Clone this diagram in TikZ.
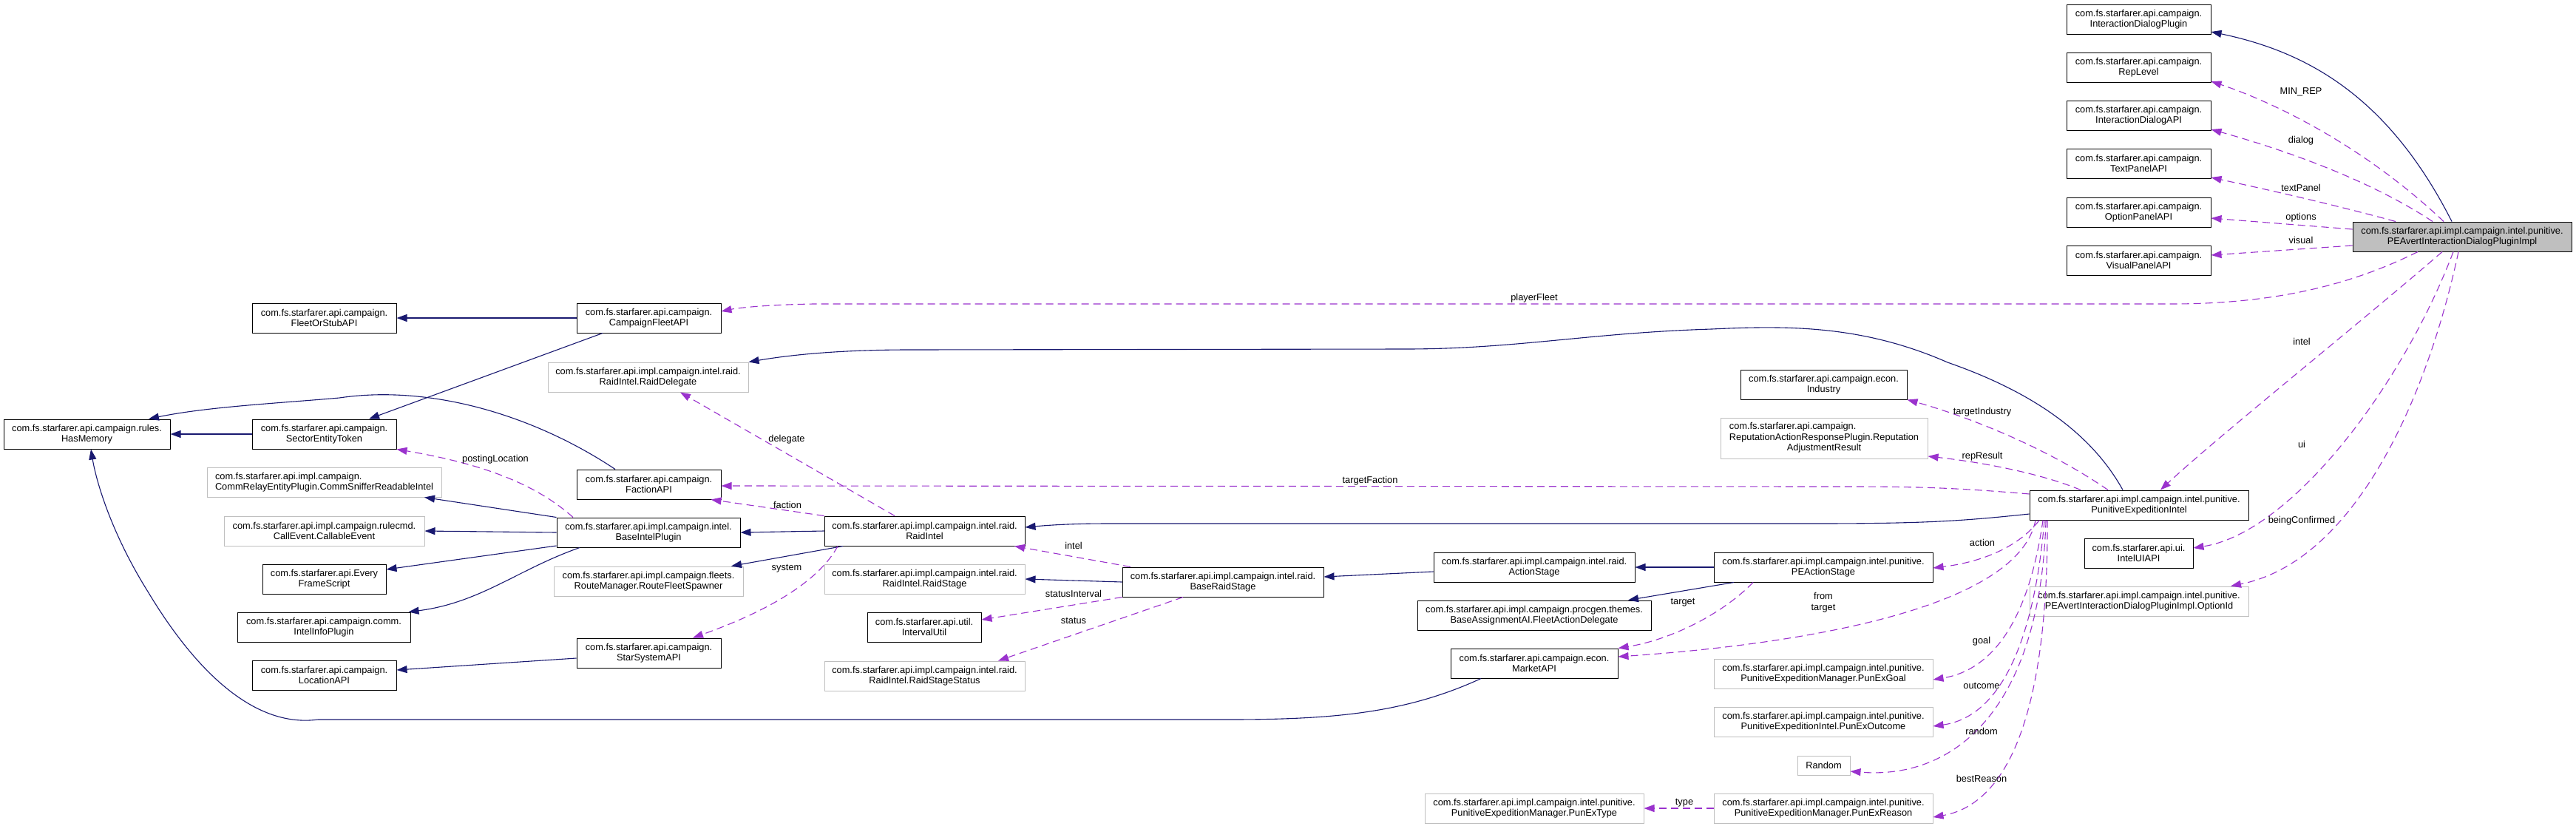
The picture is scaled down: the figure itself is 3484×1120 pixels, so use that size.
\documentclass[tikz,border=0pt]{standalone}
\usepackage{fontspec}
\newfontfamily\dfam{Liberation Sans}
\usetikzlibrary{arrows.meta}
\definecolor{midblue}{HTML}{191970}
\definecolor{orchid}{HTML}{9A32CD}
\definecolor{grey75}{HTML}{BFBFBF}
\newcommand\dsz{\dfam\fontsize{12.8pt}{14.5pt}\selectfont}
\begin{document}
\begin{tikzpicture}[x=1pt,y=-1pt,
  box/.style={line width=1pt, inner sep=0pt, align=center, font=\dsz, minimum height=40pt},
  blk/.style={box, draw=black, fill=white},
  gry/.style={box, draw=grey75, fill=white},
  inh/.style={draw=midblue, line width=1.1pt, -{Triangle[length=14pt,width=10pt]}},
  use/.style={draw=orchid, line width=1.1pt, dash pattern=on 10pt off 6pt, -{Triangle[length=14pt,width=10pt]}},
  lbl/.style={font=\dsz, inner sep=0pt, text=black}]
\useasboundingbox (0,0) rectangle (3484,1120);

% ---------- nodes ----------
\node[blk, minimum width=195pt] (idp) at (2892.5,26) {com.fs.starfarer.api.campaign.\\InteractionDialogPlugin};
\node[blk, minimum width=195pt] (replevel) at (2892.5,91) {com.fs.starfarer.api.campaign.\\RepLevel};
\node[blk, minimum width=195pt] (idapi) at (2892.5,156) {com.fs.starfarer.api.campaign.\\InteractionDialogAPI};
\node[blk, minimum width=195pt] (textp) at (2892.5,221) {com.fs.starfarer.api.campaign.\\TextPanelAPI};
\node[blk, minimum width=195pt] (optp) at (2892.5,287) {com.fs.starfarer.api.campaign.\\OptionPanelAPI};
\node[blk, minimum width=195pt] (visp) at (2892.5,352) {com.fs.starfarer.api.campaign.\\VisualPanelAPI};
\node[box, draw=black, fill=grey75, minimum width=296pt] (main) at (3330,320) {com.fs.starfarer.api.impl.campaign.intel.punitive.\\PEAvertInteractionDialogPluginImpl};

\node[blk, minimum width=195pt] (fleetstub) at (438.5,430) {com.fs.starfarer.api.campaign.\\FleetOrStubAPI};
\node[blk, minimum width=195pt] (cfleet) at (877.5,430) {com.fs.starfarer.api.campaign.\\CampaignFleetAPI};
\node[gry, minimum width=271pt] (raiddel) at (876.5,510) {com.fs.starfarer.api.impl.campaign.intel.raid.\\RaidIntel.RaidDelegate};
\node[blk, minimum width=225pt] (hasmem) at (117.5,587) {com.fs.starfarer.api.campaign.rules.\\HasMemory};
\node[blk, minimum width=195pt] (sector) at (438.5,587) {com.fs.starfarer.api.campaign.\\SectorEntityToken};
\node[gry, minimum width=317pt, align=left] (commsniff) at (438.5,652) {com.fs.starfarer.api.impl.campaign.\\CommRelayEntityPlugin.CommSnifferReadableIntel};
\node[blk, minimum width=195pt] (faction) at (877.5,655) {com.fs.starfarer.api.campaign.\\FactionAPI};
\node[blk, minimum width=248pt] (baseintel) at (877,720) {com.fs.starfarer.api.impl.campaign.intel.\\BaseIntelPlugin};
\node[gry, minimum width=271pt] (callable) at (438.5,718) {com.fs.starfarer.api.impl.campaign.rulecmd.\\CallEvent.CallableEvent};
\node[blk, minimum width=167pt] (everyframe) at (438.5,783) {com.fs.starfarer.api.Every\\FrameScript};
\node[gry, minimum width=256pt] (routefs) at (877,786) {com.fs.starfarer.api.impl.campaign.fleets.\\RouteManager.RouteFleetSpawner};
\node[blk, minimum width=234pt] (intelinfo) at (438,848) {com.fs.starfarer.api.campaign.comm.\\IntelInfoPlugin};
\node[blk, minimum width=195pt] (starsys) at (877.5,883) {com.fs.starfarer.api.campaign.\\StarSystemAPI};
\node[blk, minimum width=195pt] (location) at (438.5,913) {com.fs.starfarer.api.campaign.\\LocationAPI};

\node[blk, minimum width=271pt] (raidintel) at (1250.5,718) {com.fs.starfarer.api.impl.campaign.intel.raid.\\RaidIntel};
\node[gry, minimum width=271pt] (raidstage) at (1250.5,783) {com.fs.starfarer.api.impl.campaign.intel.raid.\\RaidIntel.RaidStage};
\node[blk, minimum width=154pt] (interval) at (1250,848) {com.fs.starfarer.api.util.\\IntervalUtil};
\node[gry, minimum width=271pt] (rss) at (1250.5,914) {com.fs.starfarer.api.impl.campaign.intel.raid.\\RaidIntel.RaidStageStatus};
\node[blk, minimum width=272pt] (baseraid) at (1654,787) {com.fs.starfarer.api.impl.campaign.intel.raid.\\BaseRaidStage};

\node[blk, minimum width=272pt] (actionst) at (2075,767) {com.fs.starfarer.api.impl.campaign.intel.raid.\\ActionStage};
\node[blk, minimum width=316pt] (fad) at (2075,832) {com.fs.starfarer.api.impl.campaign.procgen.themes.\\BaseAssignmentAI.FleetActionDelegate};
\node[blk, minimum width=226pt] (market) at (2075,897) {com.fs.starfarer.api.campaign.econ.\\MarketAPI};
\node[gry, minimum width=296pt] (punextype) at (2075,1093) {com.fs.starfarer.api.impl.campaign.intel.punitive.\\PunitiveExpeditionManager.PunExType};

\node[blk, minimum width=225pt] (industry) at (2466.5,520) {com.fs.starfarer.api.campaign.econ.\\Industry};
\node[gry, minimum width=280pt, minimum height=55pt] (repres) at (2467,592.5) {\begin{tabular}{@{}l@{}}com.fs.starfarer.api.campaign.\\ReputationActionResponsePlugin.Reputation\\\multicolumn{1}{@{}c@{}}{AdjustmentResult}\end{tabular}};
\node[blk, minimum width=296pt] (peactst) at (2466,767) {com.fs.starfarer.api.impl.campaign.intel.punitive.\\PEActionStage};
\node[gry, minimum width=296pt] (punexgoal) at (2466,911) {com.fs.starfarer.api.impl.campaign.intel.punitive.\\PunitiveExpeditionManager.PunExGoal};
\node[gry, minimum width=296pt] (punexout) at (2466,976) {com.fs.starfarer.api.impl.campaign.intel.punitive.\\PunitiveExpeditionIntel.PunExOutcome};
\node[gry, minimum width=71pt, minimum height=26pt] (random) at (2466.5,1035) {Random};
\node[gry, minimum width=296pt] (punexreason) at (2466,1093) {com.fs.starfarer.api.impl.campaign.intel.punitive.\\PunitiveExpeditionManager.PunExReason};

\node[blk, minimum width=296pt] (pei) at (2893,683) {com.fs.starfarer.api.impl.campaign.intel.punitive.\\PunitiveExpeditionIntel};
\node[blk, minimum width=147pt] (inteluiapi) at (2892.5,748) {com.fs.starfarer.api.ui.\\IntelUIAPI};
\node[gry, minimum width=296pt] (optionid) at (2893,813) {com.fs.starfarer.api.impl.campaign.intel.punitive.\\PEAvertInteractionDialogPluginImpl.OptionId};

% ---------- inheritance edges ----------
\draw[inh] ([xshift=-14pt]main.north) .. controls (3230,130) and (3120,70) .. ([yshift=-17pt]idp.east);
\draw[inh] (cfleet.west) -- (fleetstub.east);
\draw[inh] ([xshift=-62.5pt]cfleet.south) -- ([xshift=60.5pt]sector.north);
\draw[inh] (sector.west) -- (hasmem.east);
\draw[inh] ([xshift=-45.5pt]faction.north) .. controls (720,560) and (580,520) .. (459,538) .. controls (380,545) and (280,550) .. ([xshift=83.5pt]hasmem.north);
\draw[inh] ([xshift=-72pt]market.south) .. controls (1900,965) and (1800,973) .. (1661,973) -- (430,973) .. controls (340,985) and (260,900) .. (200,800) .. controls (150,720) and (130,650) .. ([xshift=5.5pt]hasmem.south);
\draw[inh] (baseintel.north west) -- ([xshift=135.5pt]commsniff.south);
\draw[inh] (baseintel.west) -- (callable.east);
\draw[inh] ([yshift=-18pt]baseintel.west) -- ([yshift=13pt]everyframe.east);
\draw[inh] ([xshift=-93pt]baseintel.south) .. controls (700,770) and (650,815) .. ([xshift=-3pt]intelinfo.north east);
\draw[inh] (raidintel.west) -- (baseintel.east);
\draw[inh] ([xshift=-110.5pt]raidintel.south) -- ([xshift=112pt]routefs.north);
\draw[inh] ([yshift=-7pt]starsys.west) -- ([yshift=7pt]location.east);
\draw[inh] (baseraid.west) -- (raidstage.east);
\draw[inh] ([yshift=-6pt]actionst.west) -- ([yshift=7pt]baseraid.east);
\draw[inh] (peactst.west) -- (actionst.east);
\draw[inh] ([xshift=-121pt]peactst.south) -- ([xshift=127pt]fad.north);
\draw[inh] ([yshift=-12pt]pei.west) .. controls (2650,705) and (2600,708) .. (2450,708) -- (1500,708) .. controls (1450,708) and (1420,710) .. ([yshift=5pt]raidintel.east);
\draw[inh] ([xshift=-22pt]pei.north) .. controls (2820,570) and (2720,520) .. (2634,490) .. controls (2520,440) and (2420,440) .. (2315,445) .. controls (2150,450) and (2050,472) .. (1900,472) -- (1229,473) .. controls (1150,473) and (1080,478) .. (raiddel.north east);

% ---------- usage edges ----------
\draw[use] ([xshift=-25pt]main.north) .. controls (3200,200) and (3080,140) .. ([yshift=-19pt]replevel.east);
\draw[use] ([xshift=-40pt]main.north) .. controls (3200,240) and (3080,200) .. ([yshift=-19pt]idapi.east);
\draw[use] ([xshift=-90pt]main.north) .. controls (3150,275) and (3060,255) .. ([yshift=-19pt]textp.east);
\draw[use] ([yshift=10pt]main.west) -- ([yshift=-8pt]optp.east);
\draw[use] ([yshift=-12pt]main.west) -- ([yshift=7pt]visp.east);
\draw[use] ([xshift=-60pt]main.south) .. controls (3200,375) and (3100,411) .. (2937,411) -- (1100,411) .. controls (1040,412) and (1000,416) .. ([yshift=9pt]cfleet.east);
\draw[use] ([xshift=-27pt]main.south) .. controls (3200,430) and (3000,590) .. ([xshift=29pt]pei.north);
\draw[use] ([xshift=-12pt]main.south) .. controls (3250,520) and (3100,720) .. ([yshift=7pt]inteluiapi.east);
\draw[use] ([xshift=-5pt]main.south) .. controls (3280,550) and (3180,760) .. ([xshift=124pt]optionid.north);
\draw[use] ([yshift=15pt]pei.west) .. controls (2650,660) and (2600,658) .. (2500,658) -- (1000,657) -- ([yshift=-2pt]faction.east);
\draw[use] ([xshift=-42pt]pei.north) .. controls (2760,600) and (2650,560) .. (industry.south east);
\draw[use] ([xshift=-79pt]pei.north) .. controls (2760,640) and (2680,625) .. ([yshift=-24.5pt]repres.east);
\draw[use] ([xshift=-135pt]pei.south) .. controls (2730,740) and (2680,760) .. ([yshift=-1pt]peactst.east);
\draw[use] ([xshift=-140pt]pei.south) .. controls (2730,820) and (2450,870) .. ([yshift=9pt]market.east);
\draw[use] ([xshift=-95pt]peactst.south) .. controls (2330,830) and (2260,865) .. (market.north east);
\draw[use] ([xshift=-130pt]pei.south) .. controls (2745,830) and (2700,905) .. ([yshift=-8pt]punexgoal.east);
\draw[use] ([xshift=-128pt]pei.south) .. controls (2750,880) and (2700,970) .. ([yshift=-6pt]punexout.east);
\draw[use] ([xshift=-126pt]pei.south) .. controls (2760,950) and (2650,1055) .. ([yshift=-8pt]random.east);
\draw[use] ([xshift=-124pt]pei.south) .. controls (2770,1000) and (2700,1090) .. ([yshift=-12pt]punexreason.east);
\draw[use] (punexreason.west) -- (punextype.east);
\draw[use] ([xshift=-40.5pt]raidintel.north) -- ([xshift=43.5pt]raiddel.south);
\draw[use] (raidintel.north west) -- ([xshift=-14pt]faction.south east);
\draw[use] ([xshift=-117.5pt]raidintel.south) .. controls (1100,800) and (1000,840) .. ([xshift=59.5pt]starsys.north);
\draw[use] ([xshift=-102pt]baseintel.north) .. controls (720,650) and (640,625) .. (sector.south east);
\draw[use] ([xshift=-125pt]baseraid.north) -- ([xshift=121.5pt]raidintel.south);
\draw[use] (baseraid.south west) -- ([yshift=10pt]interval.east);
\draw[use] ([xshift=-54pt]baseraid.south) -- ([xshift=99.5pt]rss.north);

% ---------- edge labels ----------
\node[lbl] (lminrep) at (3112,124) {MIN\_REP};
\node[lbl] (ldialog) at (3112,190) {dialog};
\node[lbl] (ltextp) at (3112,254) {textPanel};
\node[lbl] (loptions) at (3112,294) {options};
\node[lbl] (lvisual) at (3112,325) {visual};
\node[lbl] (lplayer) at (2075,403) {playerFleet};
\node[lbl] (lintel1) at (3113,462) {intel};
\node[lbl] (lui) at (3113,601) {ui};
\node[lbl] (lbeing) at (3113,704) {beingConfirmed};
\node[lbl] (ltfaction) at (1853,650) {targetFaction};
\node[lbl] (ltind) at (2681,557) {targetIndustry};
\node[lbl] (lrep) at (2681,617) {repResult};
\node[lbl] (laction) at (2681,734) {action};
\node[lbl] (ltarget) at (2276,815) {target};
\node[lbl, align=center] (lfromtarget) at (2466,814.5) {from\\target};
\node[lbl] (lgoal) at (2680,867) {goal};
\node[lbl] (loutcome) at (2680,927) {outcome};
\node[lbl] (lrandom) at (2680,989) {random};
\node[lbl] (lbest) at (2680,1053) {bestReason};
\node[lbl] (ltype) at (2278,1086) {type};
\node[lbl] (ldelegate) at (1064,594) {delegate};
\node[lbl] (lfaction) at (1065,683) {faction};
\node[lbl] (lsystem) at (1064,769) {system};
\node[lbl] (lposting) at (670,621) {postingLocation};
\node[lbl] (lintel2) at (1452,738) {intel};
\node[lbl] (lstatint) at (1452,803) {statusInterval};
\node[lbl] (lstatus) at (1452,839) {status};
\end{tikzpicture}
\end{document}
